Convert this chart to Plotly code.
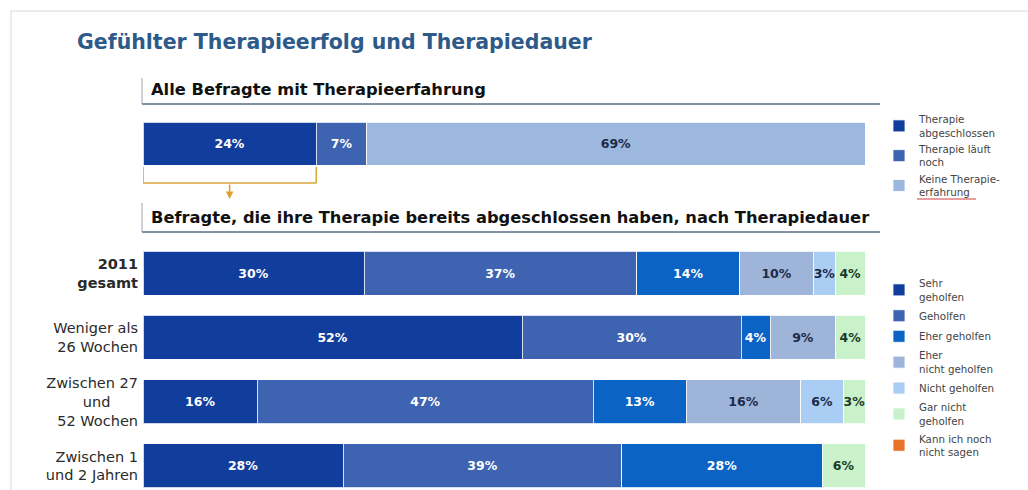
import plotly.graph_objects as go

W, H = 1028, 490

title_text = "Gefühlter Therapieerfolg und Therapiedauer"
header_top = "Alle Befragte mit Therapieerfahrung"
header_bottom = "Befragte, die ihre Therapie bereits abgeschlossen haben, nach Therapiedauer"

# Top bar: all respondents with therapy experience
top_series = ["Therapie<br>abgeschlossen", "Therapie läuft<br>noch", "Keine Therapie-<br>erfahrung"]
top_values = [24, 7, 69]
top_colors = ["#113d9c", "#3d63b1", "#9cb8de"]
top_textcolors = ["white", "white", "#1b2a48"]

# Bottom bars: completed therapy, by duration
categories = ["<b>2011<br>gesamt</b>", "Weniger als<br>26 Wochen",
              "Zwischen 27<br>und\u00a0\u00a0\u00a0\u00a0\u00a0\u00a0<br>52 Wochen",
              "Zwischen 1<br>und 2 Jahren"]
series_names = ["Sehr<br>geholfen", "Geholfen", "Eher geholfen", "Eher<br>nicht geholfen",
                "Nicht geholfen", "Gar nicht<br>geholfen", "Kann ich noch<br>nicht sagen"]
sehr_geholfen = [30, 52, 16, 28]
geholfen = [37, 30, 47, 39]
eher_geholfen = [14, 4, 13, 28]
eher_nicht_geholfen = [10, 9, 16, 0]
nicht_geholfen = [3, 0, 6, 0]
gar_nicht_geholfen = [4, 4, 3, 6]
kann_nicht_sagen = [0, 0, 0, 0]
series_values = [sehr_geholfen, geholfen, eher_geholfen, eher_nicht_geholfen,
                 nicht_geholfen, gar_nicht_geholfen, kann_nicht_sagen]
series_colors = ["#113d9c", "#3d63b1", "#0b63c6", "#9fb4d9", "#aacdf3", "#c9f2ca", "#e8722a"]
series_textcolors = ["white", "white", "white", "#1b2a48", "#1b2a48", "#1b3a28", "#1b2a48"]

def px_x(p):
    return p / W

def px_y(p):
    return 1 - p / H

fig = go.Figure()

for name, v, c, tc in zip(top_series, top_values, top_colors, top_textcolors):
    fig.add_trace(go.Bar(
        y=["alle"], x=[v], name=name, orientation="h",
        marker=dict(color=c, line=dict(color="rgba(255,255,255,0.8)", width=1)),
        text=[f"{v}%"], texttemplate="%{text}", textposition="inside", textangle=0,
        insidetextanchor="middle", constraintext="none",
        textfont=dict(family="DejaVu Sans", size=12.5, color=tc, weight="bold"),
        width=1, xaxis="x", yaxis="y", legend="legend", hoverinfo="skip",
    ))

for i, (name, vals, c, tc) in enumerate(zip(series_names, series_values, series_colors, series_textcolors)):
    fig.add_trace(go.Bar(
        y=categories, x=vals, name=name, orientation="h",
        marker=dict(color=c, line=dict(color="rgba(255,255,255,0.8)", width=1)),
        text=[f"{v}%" if v else "" for v in vals], texttemplate="%{text}",
        textposition="inside", textangle=0, insidetextanchor="middle", constraintext="none",
        textfont=dict(family="DejaVu Sans", size=12.5, color=tc, weight="bold"),
        width=0.685, xaxis="x", yaxis="y2", legend="legend2", legendgroup=f"g{i}",
        hoverinfo="skip",
    ))

shapes = []
line_col = "#8592a6"
# header frames
for top, bottom in [(78, 104), (203, 232)]:
    shapes.append(dict(type="line", xref="paper", yref="paper", x0=px_x(142), x1=px_x(142),
                       y0=px_y(top), y1=px_y(bottom), line=dict(color="#9aa3b0", width=1)))
    shapes.append(dict(type="line", xref="paper", yref="paper", x0=px_x(142), x1=px_x(880),
                       y0=px_y(bottom), y1=px_y(bottom), line=dict(color=line_col, width=2)))
# bracket under the first top segment
gold = "#d6a63a"
shapes.append(dict(type="line", xref="x", yref="paper", x0=0, x1=0,
                   y0=px_y(167), y1=px_y(183), line=dict(color=gold, width=1.5)))
shapes.append(dict(type="line", xref="x", yref="paper", x0=top_values[0], x1=top_values[0],
                   y0=px_y(167), y1=px_y(183), line=dict(color=gold, width=1.5)))
shapes.append(dict(type="line", xref="x", yref="paper", x0=0, x1=top_values[0],
                   y0=px_y(183), y1=px_y(183), line=dict(color=gold, width=1.5)))
# faint outer frame
shapes.append(dict(type="rect", xref="paper", yref="paper", x0=px_x(11), x1=px_x(1040),
                   y0=px_y(500), y1=px_y(11), line=dict(color="#ececec", width=2)))
# red spell-check underline
shapes.append(dict(type="line", xref="paper", yref="paper", x0=px_x(917), x1=px_x(976),
                   y0=px_y(199), y1=px_y(199), line=dict(color="#d23c3c", width=1)))

annotations = [
    dict(text=title_text, xref="paper", yref="paper", x=px_x(75), y=px_y(42),
         xanchor="left", yanchor="middle", showarrow=False,
         font=dict(family="DejaVu Sans", size=20.5, color="#2d5a89", weight="bold")),
    dict(text=header_top, xref="paper", yref="paper", x=px_x(149), y=px_y(90),
         xanchor="left", yanchor="middle", showarrow=False,
         font=dict(family="DejaVu Sans", size=16.3, color="#111111", weight="bold")),
    dict(text=header_bottom, xref="paper", yref="paper", x=px_x(149), y=px_y(217),
         xanchor="left", yanchor="middle", showarrow=False,
         font=dict(family="DejaVu Sans", size=16.3, color="#111111", weight="bold")),
    dict(text="", x=top_values[0] / 2, xref="x", y=px_y(199), yref="paper",
         showarrow=True, ax=0, ay=-16, arrowhead=2, arrowsize=1, arrowwidth=1.5,
         arrowcolor="#e0a030"),
]

legend_font = dict(family="DejaVu Sans", size=10.3, color="#444444")

fig.update_layout(
    width=W, height=H,
    margin=dict(l=0, r=0, t=0, b=0),
    paper_bgcolor="white", plot_bgcolor="rgba(0,0,0,0)",
    barmode="stack", barnorm="percent",
    xaxis=dict(domain=[px_x(143), px_x(865)], range=[0, 100], visible=False, fixedrange=True),
    yaxis=dict(domain=[px_y(165), px_y(122)], range=[-0.5, 0.5], visible=False, type="category"),
    yaxis2=dict(domain=[0, px_y(241)], range=[3.375, -0.5], type="category", anchor="x",
                showgrid=False, zeroline=False, showline=False, ticks="",
                ticklabelstandoff=4,
                tickfont=dict(family="DejaVu Sans", size=14.5, color="#2a2a2a")),
    legend=dict(x=px_x(879), y=px_y(106), xanchor="left", yanchor="top", traceorder="normal",
                bgcolor="rgba(0,0,0,0)", tracegroupgap=0, font=legend_font),
    legend2=dict(x=px_x(879), y=px_y(270), xanchor="left", yanchor="top", traceorder="grouped",
                 bgcolor="rgba(0,0,0,0)", tracegroupgap=1.5, font=legend_font),
    showlegend=True,
    shapes=shapes,
    annotations=annotations,
)

fig.write_html("out.html", config={"displayModeBar": False},
               post_script="document.body.style.margin='0px';")
